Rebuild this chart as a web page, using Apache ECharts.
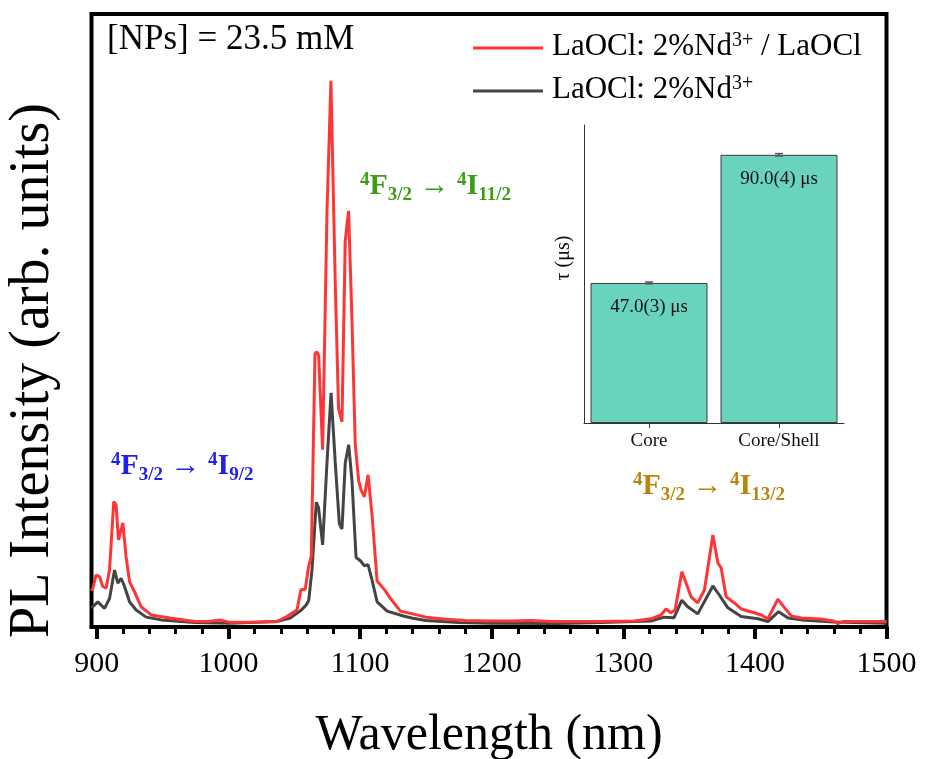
<!DOCTYPE html>
<html>
<head>
<meta charset="utf-8">
<script src="https://cdn.jsdelivr.net/npm/echarts@6/dist/echarts.min.js"></script>
<style>html,body{margin:0;padding:0;background:#fff;}#c{width:925px;height:759px;}</style>
</head>
<body>
<div id="c"></div>
<script>
// ---- Data ----
const seriesNames = ['LaOCl: 2%Nd3+ / LaOCl', 'LaOCl: 2%Nd3+'];

const wlRed = [896, 897, 899.5, 902.1, 904.6, 907.1, 909.7, 912.9, 914.7, 916.5, 919.8, 922.3, 924.9, 928.7, 933.7, 941.3, 956.6, 974.4, 985, 993.7, 1001.3, 1024, 1036.8, 1044.4, 1052.1, 1055.1, 1058.4, 1060.9, 1063.0, 1065.8, 1067.3, 1068.6, 1071.6, 1074.9, 1077.9, 1081.2, 1083.7, 1086.3, 1088.8, 1091.3, 1093.9, 1096.4, 1099.0, 1100.8, 1103.3, 1106.1, 1109.2, 1113.0, 1119.3, 1123.1, 1130.7, 1140, 1150, 1165, 1180, 1200, 1215, 1230, 1245, 1260, 1283, 1308.1, 1321.1, 1328.7, 1332.5, 1336.3, 1339.4, 1344.5, 1347.8, 1351.6, 1356.6, 1361.7, 1368.1, 1371.9, 1374.4, 1378.2, 1384.5, 1389.6, 1399.5, 1404.8, 1409.9, 1417.5, 1422.6, 1427.7, 1435.3, 1450, 1460, 1463, 1467, 1480, 1500];
const intRed = [66, 71, 95, 92, 74, 71, 104, 229, 223, 159, 190, 128, 83, 64, 37, 22, 16, 10, 10, 12.8, 8.5, 9, 10, 19, 31, 68, 69, 110, 130, 499, 503, 495, 324, 757, 998, 627, 399, 375, 706, 760, 561, 333, 267, 250, 238, 278, 203, 84, 66, 52, 29, 24, 18, 14, 12, 11, 11, 12, 10, 10, 10, 11, 15, 22, 33, 26, 31, 101, 80, 55, 44, 68, 168, 117, 108, 55, 44, 33, 26, 22, 15, 51, 35, 20, 16.5, 14.6, 11, 6, 10, 10, 10];

const wlBlack = [896, 897, 900.8, 905.9, 909.7, 913.5, 916.0, 918.5, 921.1, 924.9, 929.9, 937.5, 949.0, 974.4, 1001.3, 1036.8, 1047.0, 1055, 1059, 1061, 1063.5, 1066.8, 1068.5, 1071.6, 1074.9, 1078.0, 1081.2, 1084.3, 1086.3, 1088.8, 1091.4, 1093.9, 1097.0, 1100.3, 1103.3, 1106.1, 1109.2, 1113.0, 1120.6, 1133.0, 1140, 1150, 1175, 1200, 1250, 1283, 1321.1, 1331.0, 1338.6, 1344.5, 1349.0, 1356.6, 1368.1, 1373.1, 1379.5, 1389.6, 1402.3, 1409.9, 1418.0, 1425.2, 1435.3, 1460, 1500];
const intBlack = [35, 37, 46, 34, 52, 104, 80, 89, 74, 46, 31, 18, 13, 8, 7, 10, 16.5, 30, 40, 48, 104, 228, 218, 150, 300, 428, 300, 189, 179, 300, 333, 267, 127, 121, 112, 114, 85, 46, 29, 20, 16, 12, 8, 7, 6.5, 8, 11, 18, 17, 49, 37, 24, 75, 58, 35, 19, 15, 10, 28, 16.5, 13, 9, 7];

const majorTicks = [900, 1000, 1100, 1200, 1300, 1400, 1500];
const minorTicks = [920, 940, 960, 980, 1020, 1040, 1060, 1080, 1120, 1140, 1160, 1180, 1220, 1240, 1260, 1280, 1320, 1340, 1360, 1380, 1420, 1440, 1460, 1480];

const insetCategories = ['Core', 'Core/Shell'];
const tauValues = [47.0, 90.0];
const tauErrors = [0.3, 0.4];
const tauLabels = ['47.0(3) μs', '90.0(4) μs'];

// ---- Chart ----
const serif = 'Liberation Serif, Times New Roman, serif';
const chart = echarts.init(document.getElementById('c'), null, {renderer: 'canvas'});

function pairs(xs, ys) { return xs.map((x, i) => [x, ys[i]]); }

const transRich = function (color) {
  return {
    m: {fontFamily: serif, fontWeight: 'bold', fontSize: 30, lineHeight: 30, verticalAlign: 'top', fill: color, color: color},
    s: {fontFamily: serif, fontWeight: 'bold', fontSize: 19, lineHeight: 19, verticalAlign: 'top', fill: color, color: color},
    b: {fontFamily: serif, fontWeight: 'bold', fontSize: 19, lineHeight: 49, fill: color, color: color}
  };
};

const mainGrid = {left: 91.5, right: 38.5, top: 14, bottom: 132};

const option = {
  animation: false,
  backgroundColor: '#fff',
  grid: [
    Object.assign({show: true, borderColor: '#000', borderWidth: 4, backgroundColor: 'transparent', containLabel: false, outerBoundsMode: 'none'}, mainGrid),
    {left: 584, top: 125, width: 260, height: 298, show: false, containLabel: false, outerBoundsMode: 'none'},
    Object.assign({show: false, containLabel: false, outerBoundsMode: 'none'}, mainGrid)
  ],
  legend: {
    orient: 'vertical',
    left: 468, top: 26,
    icon: 'rect', itemWidth: 70, itemHeight: 3, itemGap: 12,
    data: seriesNames,
    formatter: function (name) {
      const p = name.split('3+');
      let s = '{n|' + p[0] + '}{s|3+}';
      if (p[1]) s += '{n|' + p[1] + '}';
      return s;
    },
    textStyle: {
      fontFamily: serif, fontSize: 31, color: '#000', padding: [0, 0, 0, 4],
      rich: {
        n: {fontFamily: serif, fontSize: 31, lineHeight: 34, verticalAlign: 'top', color: '#000'},
        s: {fontFamily: serif, fontSize: 20, lineHeight: 20, verticalAlign: 'top', color: '#000'}
      }
    }
  },
  xAxis: [
    {
      type: 'value', gridIndex: 0, min: 896, max: 1500,
      name: 'Wavelength (nm)', nameLocation: 'middle', nameGap: 84,
      nameTextStyle: {fontFamily: serif, fontSize: 50, color: '#000'},
      axisLine: {show: true, onZero: false, lineStyle: {color: '#000', width: 4}},
      axisTick: {show: true, customValues: majorTicks, length: 12, lineStyle: {color: '#000', width: 4}},
      axisLabel: {show: true, customValues: majorTicks, margin: 22, fontFamily: serif, fontSize: 30, color: '#000',
        formatter: function (v) { return String(v); }},
      splitLine: {show: false}
    },
    {
      type: 'category', gridIndex: 1, data: insetCategories,
      axisLine: {show: true, lineStyle: {color: '#333', width: 1}},
      axisTick: {show: true, alignWithLabel: true, length: 5, lineStyle: {color: '#333'}},
      axisLabel: {margin: 9, fontFamily: serif, fontSize: 19, color: '#111'}
    },
    {
      type: 'value', gridIndex: 2, min: 896, max: 1500, position: 'bottom',
      axisLine: {show: false, onZero: false},
      axisTick: {show: true, customValues: minorTicks, length: 7, lineStyle: {color: '#000', width: 3}},
      axisLabel: {show: false, customValues: minorTicks},
      splitLine: {show: false}
    }
  ],
  yAxis: [
    {
      type: 'value', gridIndex: 0, min: 0, max: 1120,
      name: 'PL Intensity (arb. units)', nameLocation: 'middle', nameGap: 30,
      nameTextStyle: {fontFamily: serif, fontSize: 56, color: '#000', padding: [0, 100, 0, 0]},
      axisLine: {show: false}, axisTick: {show: false}, axisLabel: {show: false}, splitLine: {show: false}
    },
    {
      type: 'value', gridIndex: 1, min: 0, max: 100,
      name: 'τ (μs)', nameLocation: 'middle', nameGap: 10,
      nameTextStyle: {fontFamily: serif, fontSize: 20, color: '#111', padding: [0, 0, 0, 32]},
      axisLine: {show: true, lineStyle: {color: '#333', width: 1}},
      axisTick: {show: false}, axisLabel: {show: false}, splitLine: {show: false}
    },
    {
      type: 'value', gridIndex: 2, min: 0, max: 1120, show: false
    }
  ],
  series: [
    {
      name: seriesNames[0], type: 'line', xAxisIndex: 0, yAxisIndex: 0,
      data: pairs(wlRed, intRed), showSymbol: false, symbol: 'none', z: 3,
      lineStyle: {color: '#ff3535', width: 3}, itemStyle: {color: '#ff3535'}
    },
    {
      name: seriesNames[1], type: 'line', xAxisIndex: 0, yAxisIndex: 0,
      data: pairs(wlBlack, intBlack), showSymbol: false, symbol: 'none', z: 2,
      lineStyle: {color: '#444444', width: 3}, itemStyle: {color: '#444444'}
    },
    {
      type: 'bar', xAxisIndex: 1, yAxisIndex: 1, data: tauValues, barCategoryGap: '10%',
      itemStyle: {color: '#69d3bd', borderColor: '#3d3d3d', borderWidth: 1},
      label: {
        show: true, position: 'insideTop', distance: 15,
        formatter: function (p) { return tauLabels[p.dataIndex]; },
        fontFamily: serif, fontSize: 19, color: '#111'
      }
    },
    {
      type: 'custom', xAxisIndex: 1, yAxisIndex: 1,
      data: tauValues.map((v, i) => [i, v - tauErrors[i], v + tauErrors[i]]),
      renderItem: function (params, api) {
        const lo = api.coord([api.value(0), api.value(1)]);
        const hi = api.coord([api.value(0), api.value(2)]);
        const w = 4;
        const st = {stroke: '#555', lineWidth: 1.5};
        return {type: 'group', children: [
          {type: 'line', shape: {x1: hi[0], y1: hi[1], x2: lo[0], y2: lo[1]}, style: st},
          {type: 'line', shape: {x1: hi[0] - w, y1: hi[1], x2: hi[0] + w, y2: hi[1]}, style: st},
          {type: 'line', shape: {x1: lo[0] - w, y1: lo[1], x2: lo[0] + w, y2: lo[1]}, style: st}
        ]};
      },
      z: 5
    }
  ],
  graphic: [
    {type: 'text', x: 107, y: 40, style: {text: '[NPs] = 23.5 mM', font: '35px ' + serif, fill: '#000', textVerticalAlign: 'middle'}},
    {type: 'text', x: 111, y: 451, style: {text: '{s|4}{m|F}{b|3/2}{m| → }{s|4}{m|I}{b|9/2}', fill: '#1f1fee', rich: transRich('#1f1fee')}},
    {type: 'text', x: 360, y: 171, style: {text: '{s|4}{m|F}{b|3/2}{m| → }{s|4}{m|I}{b|11/2}', fill: '#3c9c14', rich: transRich('#3c9c14')}},
    {type: 'text', x: 633, y: 471, style: {text: '{s|4}{m|F}{b|3/2}{m| → }{s|4}{m|I}{b|13/2}', fill: '#b8860b', rich: transRich('#b8860b')}}
  ]
};
chart.setOption(option);
</script>
</body>
</html>
